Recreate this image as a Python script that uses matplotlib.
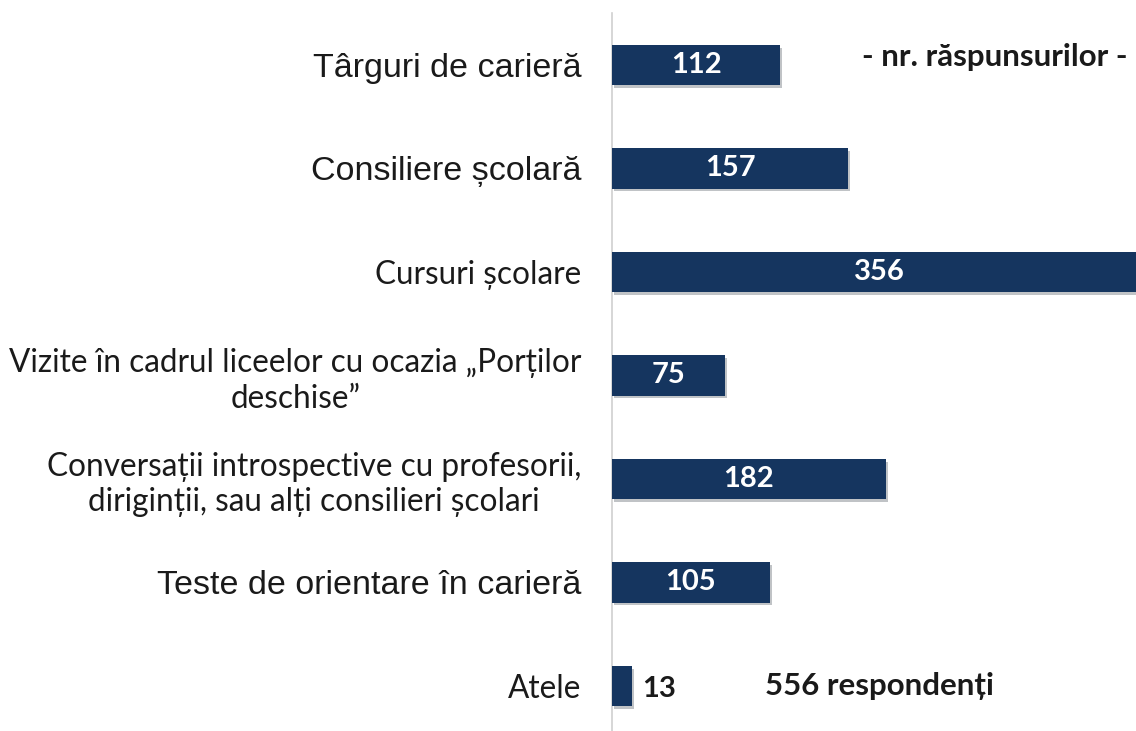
import matplotlib
matplotlib.use("Agg")
import matplotlib.pyplot as plt
import matplotlib.patheffects as pe

categories = [
    "Târguri de carieră",
    "Consiliere școlară",
    "Cursuri școlare",
    "Vizite în cadrul liceelor cu ocazia „Porților\ndeschise”",
    "Conversații introspective cu profesorii,\ndiriginții, sau alți consilieri școlari",
    "Teste de orientare în carieră",
    "Atele",
]
values = [112, 157, 356, 75, 182, 105, 13]
# which labels were typeset in the Arial-like face
arial_labels = [True, True, False, False, False, True, False]

W, H = 1136, 731
fig = plt.figure(figsize=(W / 100, H / 100), dpi=100)
# axes: left spine at x=612px, top at y=13px, runs to bottom edge
ax = fig.add_axes([612 / W, 0, (W - 612) / W, (H - 13) / H])

bar_color = "#15355F"
ys = list(range(len(values)))
bars = ax.barh(ys, values, height=0.39, color=bar_color, zorder=3)
for b in bars:
    b.set_path_effects([pe.SimplePatchShadow(offset=(1.5, -2), alpha=0.25), pe.Normal()])

ax.set_xlim(0, 348.6)
ax.set_ylim(6.435, -0.502)

for spine in ["top", "right", "bottom"]:
    ax.spines[spine].set_visible(False)
ax.spines["left"].set_color("#D0D0D0")
ax.spines["left"].set_linewidth(1.2)
ax.set_xticks([])
ax.set_yticks(ys)
ax.set_yticklabels(categories)
ax.tick_params(axis="y", length=0, pad=22)

for lbl, is_arial in zip(ax.get_yticklabels(), arial_labels):
    lbl.set_multialignment("center")
    lbl.set_color("#1a1a1a")
    lbl.set_linespacing(1.22)
    if is_arial:
        lbl.set_fontfamily("Liberation Sans")
        lbl.set_fontsize(24.5)
    else:
        lbl.set_fontfamily("Lato")
        lbl.set_fontsize(22.7)

for y, v in zip(ys, values):
    if v > 40:
        ax.text(v / 2, y, str(v), ha="center", va="center", color="white",
                fontsize=21, fontweight="bold", family="Lato", zorder=4)
    else:
        ax.text(v + 7, y + 0.03, str(v), ha="left", va="center", color="#1a1a1a",
                fontsize=21, fontweight="bold", family="Lato", zorder=4)

fig.text(1128 / W, 1 - 57 / H, "- nr. răspunsurilor -", ha="right", va="center",
         fontsize=22.5, fontweight="bold", family="Lato", color="#1a1a1a")
fig.text(765 / W, 1 - 686 / H, "556 respondenți", ha="left", va="center",
         fontsize=22.5, fontweight="bold", family="Lato", color="#1a1a1a")

fig.savefig("out.png", dpi=100)
